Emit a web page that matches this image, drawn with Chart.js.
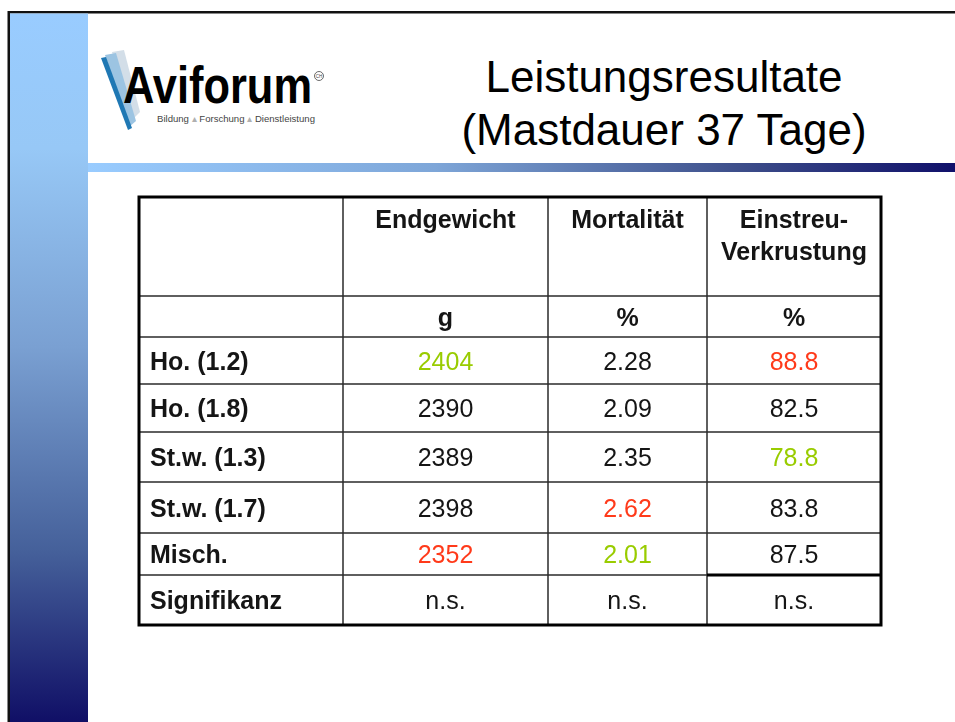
<!DOCTYPE html>
<html>
<head>
<meta charset="utf-8">
<script src="https://cdn.jsdelivr.net/npm/chart.js@4.4.0/dist/chart.umd.min.js"></script>
<style>
  html, body { margin: 0; padding: 0; background: #fff; }
  #slide { position: relative; width: 955px; height: 722px; overflow: hidden; }
  #slide svg, #slide canvas { position: absolute; left: 0; top: 0; }
</style>
</head>
<body>
<div id="slide">
  <svg width="955" height="722" xmlns="http://www.w3.org/2000/svg">
    <defs>
      <linearGradient id="sideBar" gradientUnits="userSpaceOnUse" x1="0" y1="14" x2="0" y2="722">
        <stop offset="0" stop-color="#99ccff"/>
        <stop offset="0.19" stop-color="#97c8f6"/>
        <stop offset="0.47" stop-color="#7aa0d2"/>
        <stop offset="0.76" stop-color="#45609a"/>
        <stop offset="1" stop-color="#100f66"/>
      </linearGradient>
      <linearGradient id="topBar" gradientUnits="userSpaceOnUse" x1="88" y1="0" x2="955" y2="0">
        <stop offset="0" stop-color="#99ccff"/>
        <stop offset="0.4" stop-color="#7ea6d8"/>
        <stop offset="0.75" stop-color="#3d4e8a"/>
        <stop offset="1" stop-color="#10106a"/>
      </linearGradient>
    </defs>
    <!-- slide frame -->
    <rect x="8" y="11" width="947" height="2.5" fill="#111"/>
    <rect x="7.5" y="11" width="2.5" height="711" fill="#111"/>
    <rect x="10" y="13.5" width="78" height="709" fill="url(#sideBar)"/>
    <rect x="88" y="163" width="867" height="9" fill="url(#topBar)"/>

    <!-- logo -->
    <polygon points="112,52 124,50 140,112 131,121" fill="#d3dee8"/>
    <polygon points="105,55 116,53 136,121 129,127" fill="#9cc4e2"/>
    <polygon points="101,58 106,57 132,128 128,130" fill="#1f78b4"/>
    <text x="123" y="103" font-family="Liberation Sans, Arial, sans-serif" font-weight="bold"
          font-size="52" textLength="189" lengthAdjust="spacingAndGlyphs" fill="#000">Aviforum</text>
    <circle cx="319" cy="76" r="4.5" fill="none" stroke="#444" stroke-width="0.8"/>
    <text x="319" y="78" font-family="Liberation Sans, Arial, sans-serif" font-size="4.5"
          text-anchor="middle" fill="#444">CH</text>
    <text x="157" y="122" font-family="Liberation Sans, Arial, sans-serif" font-size="9.5"
          textLength="158" lengthAdjust="spacingAndGlyphs" fill="#444">Bildung <tspan fill="#b0b0b0">▴</tspan> Forschung <tspan fill="#b0b0b0">▴</tspan> Dienstleistung</text>

    <!-- title -->
    <text x="664" y="92" font-family="Liberation Sans, Arial, sans-serif" font-size="44"
          text-anchor="middle" fill="#000">Leistungsresultate</text>
    <text x="664" y="145" font-family="Liberation Sans, Arial, sans-serif" font-size="44"
          text-anchor="middle" fill="#000">(Mastdauer 37 Tage)</text>
  </svg>
  <canvas id="table" width="955" height="722"></canvas>
</div>

<script>
// ==================================================
// DATA
// ==================================================
const groups = ["Ho. (1.2)", "Ho. (1.8)", "St.w. (1.3)", "St.w. (1.7)", "Misch."];
const headers = [["Endgewicht"], ["Mortalität"], ["Einstreu-", "Verkrustung"]];
const units = ["g", "%", "%"];
const endgewicht = [2404, 2390, 2389, 2398, 2352];
const mortalitaet = [2.28, 2.09, 2.35, 2.62, 2.01];
const verkrustung = [88.8, 82.5, 78.8, 83.8, 87.5];
const signifikanzLabel = "Signifikanz";
const signifikanz = ["n.s.", "n.s.", "n.s."];

// which direction is "best" for each measure, and how many decimals to show
const higherIsBetter = [true, false, false];
const decimals = [0, 2, 1];

// ==================================================
// LAYOUT
// ==================================================
const colWidths = [204, 205, 159, 174];
const rowHeights = [99, 41, 47, 48, 50, 51, 42, 50];

const INK = "#151515";
const GREEN = "#99cc00";
const RED = "#ff3a1a";
const FONT = '"Liberation Sans", Arial, sans-serif';

const toEdges = (arr) => {
  const out = [0];
  arr.forEach((v) => out.push(out[out.length - 1] + v));
  return out;
};
const xEdges = toEdges(colWidths);
const yEdges = toEdges(rowHeights);
const mid = (edges, i) => (edges[i] + edges[i + 1]) / 2;

// ==================================================
// BUILD CELLS
// ==================================================
const measures = [endgewicht, mortalitaet, verkrustung];

const pickColor = (values, j, v) => {
  const best = higherIsBetter[j] ? Math.max(...values) : Math.min(...values);
  const worst = higherIsBetter[j] ? Math.min(...values) : Math.max(...values);
  if (v === best) return GREEN;
  if (v === worst) return RED;
  return INK;
};

// first column: row labels
const labelCells = [];
groups.forEach((g, i) => {
  labelCells.push({ x: mid(xEdges, 0), y: mid(yEdges, i + 2), text: [g], kind: "label", color: INK });
});
labelCells.push({ x: mid(xEdges, 0), y: mid(yEdges, groups.length + 2), text: [signifikanzLabel], kind: "label", color: INK });

const datasets = [{ label: "Gruppe", data: labelCells }];

measures.forEach((values, j) => {
  const cells = [];
  const cx = mid(xEdges, j + 1);
  cells.push({ x: cx, y: mid(yEdges, 0), text: headers[j], kind: "header", color: INK });
  cells.push({ x: cx, y: mid(yEdges, 1), text: [units[j]], kind: "unit", color: INK });
  values.forEach((v, i) => {
    cells.push({
      x: cx,
      y: mid(yEdges, i + 2),
      text: [v.toFixed(decimals[j])],
      kind: "value",
      color: pickColor(values, j, v),
    });
  });
  cells.push({ x: cx, y: mid(yEdges, values.length + 2), text: [signifikanz[j]], kind: "value", color: INK });
  datasets.push({ label: headers[j].join(""), data: cells });
});

// ==================================================
// TABLE PLUGIN
// ==================================================
const strokeLine = (ctx, x1, y1, x2, y2) => {
  ctx.beginPath();
  ctx.moveTo(x1, y1);
  ctx.lineTo(x2, y2);
  ctx.stroke();
};

const tablePlugin = {
  id: "tableGrid",
  beforeDatasetsDraw(chart) {
    const { ctx } = chart;
    const { x, y } = chart.scales;
    const left = x.getPixelForValue(xEdges[0]);
    const right = x.getPixelForValue(xEdges[xEdges.length - 1]);
    const top = y.getPixelForValue(yEdges[0]);
    const bottom = y.getPixelForValue(yEdges[yEdges.length - 1]);

    ctx.save();
    ctx.fillStyle = "#ffffff";
    ctx.fillRect(left, top, right - left, bottom - top);

    ctx.strokeStyle = "#2a2a2a";
    ctx.lineWidth = 1.5;
    xEdges.slice(1, -1).forEach((v) => {
      const px = x.getPixelForValue(v);
      strokeLine(ctx, px, top, px, bottom);
    });
    yEdges.slice(1, -1).forEach((v) => {
      const py = y.getPixelForValue(v);
      strokeLine(ctx, left, py, right, py);
    });

    // heavier rule above the last cell of the last column
    ctx.strokeStyle = "#000";
    ctx.lineWidth = 3;
    const py = y.getPixelForValue(yEdges[yEdges.length - 2]);
    strokeLine(ctx, x.getPixelForValue(xEdges[xEdges.length - 2]), py, right, py);
    ctx.restore();
  },
  afterDatasetsDraw(chart) {
    const { ctx } = chart;
    const { x, y } = chart.scales;
    const left = x.getPixelForValue(xEdges[0]);
    const top = y.getPixelForValue(yEdges[0]);

    ctx.save();
    chart.data.datasets.forEach((ds, d) => {
      const meta = chart.getDatasetMeta(d);
      meta.data.forEach((el, i) => {
        const cell = ds.data[i];
        ctx.fillStyle = cell.color;
        if (cell.kind === "label") {
          ctx.font = "bold 25px " + FONT;
          ctx.textAlign = "left";
          ctx.fillText(cell.text[0], left + 11, el.y + 9);
        } else if (cell.kind === "header") {
          ctx.font = "bold 25px " + FONT;
          ctx.textAlign = "center";
          cell.text.forEach((line, k) => {
            ctx.fillText(line, el.x, top + 31 + k * 32);
          });
        } else if (cell.kind === "unit") {
          ctx.font = "bold 25px " + FONT;
          ctx.textAlign = "center";
          ctx.fillText(cell.text[0], el.x, el.y + 9);
        } else {
          ctx.font = "25px " + FONT;
          ctx.textAlign = "center";
          ctx.fillText(cell.text[0], el.x, el.y + 9);
        }
      });
    });

    // outer border
    const right = x.getPixelForValue(xEdges[xEdges.length - 1]);
    const bottom = y.getPixelForValue(yEdges[yEdges.length - 1]);
    ctx.strokeStyle = "#000";
    ctx.lineWidth = 3;
    ctx.strokeRect(left, top, right - left, bottom - top);
    ctx.restore();
  },
};

// ==================================================
// CHART
// ==================================================
const ctx = document.getElementById("table").getContext("2d");
const tableChart = new Chart(ctx, {
  type: "scatter",
  data: { datasets },
  options: {
    responsive: false,
    animation: false,
    devicePixelRatio: 1,
    layout: { padding: { left: 139, top: 197, right: 74, bottom: 97 } },
    elements: { point: { radius: 0, hoverRadius: 0 } },
    scales: {
      x: { type: "linear", display: false, min: 0, max: xEdges[xEdges.length - 1] },
      y: { type: "linear", display: false, min: 0, max: yEdges[yEdges.length - 1], reverse: true },
    },
    plugins: { legend: { display: false }, tooltip: { enabled: false } },
  },
  plugins: [tablePlugin],
});
</script>
</body>
</html>
